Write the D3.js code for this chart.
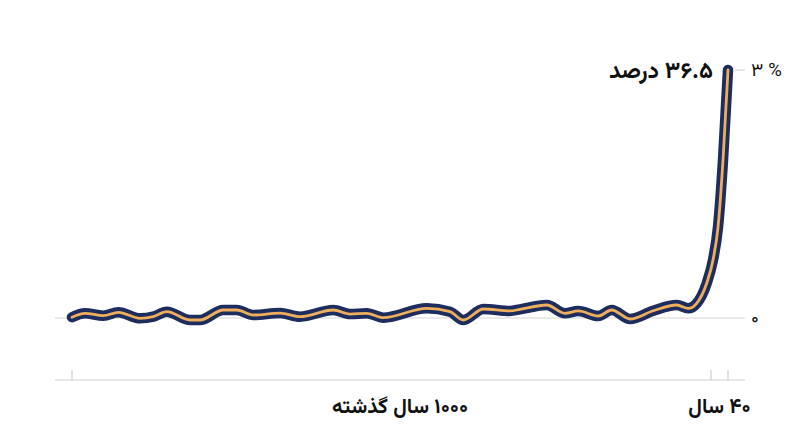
<!DOCTYPE html>
<html><head><meta charset="utf-8">
<script src="https://cdn.jsdelivr.net/npm/d3@7"></script>
<style>
html,body{margin:0;padding:0;background:#fff;}
svg{display:block;}
</style></head>
<body>
<svg id="chart" width="800" height="447"></svg>
<script>
// Position along the last 1000 years (0 = 1000 years ago, 1000 = now)
const positions = [0, 19.8, 47.7, 70.6, 103.7, 123.9, 144.4, 179.9, 195.1, 230.6, 251.1, 276.4, 317.1, 347.6, 398.3, 423.8, 449.2, 474.5, 540.7, 576.2, 596.5, 627, 667.7, 682.9, 723.6, 751.5, 771.8, 802.3, 822.7, 850.6, 886.1, 921.8, 939.5, 952.3, 967.5, 977.1, 984.8, 992.4, 1000];
const values = [0.01, 0.057, 0.028, 0.069, -0.004, 0.016, 0.076, -0.024, -0.024, 0.097, 0.097, 0.036, 0.06, 0.016, 0.097, 0.048, 0.057, 0.004, 0.117, 0.076, -0.024, 0.109, 0.085, 0.105, 0.157, 0.057, 0.085, 0.024, 0.097, -0.012, 0.088, 0.157, 0.117, 0.178, 0.42, 0.70, 1.10, 1.91, 3.0];
const yTicks = [0, 3];
const yTickLabels = ["۰", "۳ %"];
const xTicks = [0, 974, 1000];
const xSpanLabels = [
  {from: 0, to: 1000, text: "۱۰۰۰ سال گذشته"},
  {from: 974, to: 1000, text: "۴۰ سال"}
];
const annotationText = "۳۶.۵ درصد";

const FONT = "Vazirmatn, 'Noto Sans Arabic', 'Noto Naskh Arabic', 'DejaVu Sans', sans-serif";
const RLM = "\u200F";
const svg = d3.select("#chart");
const x = d3.scaleLinear().domain([0, 1000]).range([72, 728]);
const y = d3.scaleLinear().domain([0, 3]).range([318, 70]);
const left = 55, right = 745, axisY = 380;

// baseline grid
svg.append("line").attr("x1", left).attr("x2", right)
  .attr("y1", y(0)).attr("y2", y(0))
  .attr("stroke", "#d6d6d6").attr("stroke-width", 1.2);
// short top grid
svg.append("line").attr("x1", x(1000) + 7).attr("x2", right)
  .attr("y1", y(3)).attr("y2", y(3))
  .attr("stroke", "#d6d6d6").attr("stroke-width", 1.2);

// y labels
svg.selectAll(".ylab").data(yTicks).enter().append("text")
  .attr("x", 751).attr("y", d => y(d))
  .attr("dy", "0.35em")
  .attr("direction", "ltr")
  .attr("font-family", FONT)
  .attr("font-size", 18.5).attr("fill", "#111")
  .text((d, i) => yTickLabels[i]);

// x axis
svg.append("line").attr("x1", left).attr("x2", right)
  .attr("y1", axisY).attr("y2", axisY)
  .attr("stroke", "#cfcfcf").attr("stroke-width", 1.2);
svg.selectAll(".xtick").data(xTicks).enter().append("line")
  .attr("x1", d => x(d)).attr("x2", d => x(d))
  .attr("y1", axisY - 10).attr("y2", axisY)
  .attr("stroke", "#cfcfcf").attr("stroke-width", 1.2);
svg.selectAll(".xlab").data(xSpanLabels).enter().append("text")
  .attr("x", d => (x(d.from) + x(d.to)) / 2).attr("y", 413)
  .attr("text-anchor", "middle")
  .attr("font-family", FONT)
  .attr("font-weight", "bold").attr("font-size", 20.7).attr("fill", "#111")
  .text(d => RLM + d.text);

// line
const data = positions.map((p, i) => ({p, v: values[i]}));
const lineGen = d3.line().x(d => x(d.p)).y(d => y(d.v)).curve(d3.curveMonotoneX);
svg.append("path").datum(data).attr("d", lineGen)
  .attr("fill", "none").attr("stroke", "#1c2d5e").attr("stroke-width", 10.5)
  .attr("stroke-linecap", "round").attr("stroke-linejoin", "round");
svg.append("path").datum(data).attr("d", lineGen)
  .attr("fill", "none").attr("stroke", "#eeae5c").attr("stroke-width", 2.8)
  .attr("stroke-linecap", "round").attr("stroke-linejoin", "round");

// annotation
const last = data[data.length - 1];
svg.append("text")
  .attr("x", x(last.p) - 15).attr("y", y(last.v))
  .attr("dy", "0.35em")
  .attr("text-anchor", "end")
  .attr("font-family", FONT)
  .attr("font-weight", "bold").attr("font-size", 23).attr("fill", "#111")
  .text(RLM + annotationText);
</script>
</body></html>
